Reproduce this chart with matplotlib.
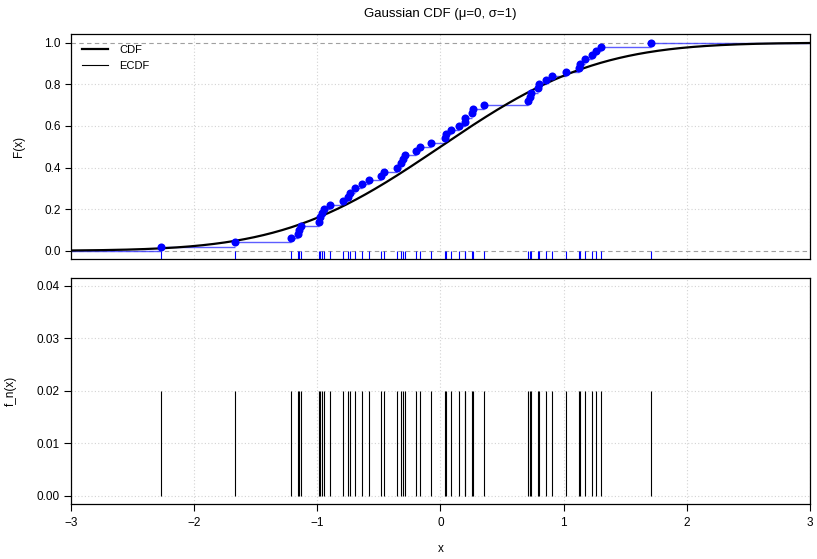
import numpy as np
import matplotlib
matplotlib.use("Agg")
import matplotlib.pyplot as plt
from matplotlib.lines import Line2D
from math import erf, sqrt

plt.rcParams['font.family'] = ['Liberation Sans', 'DejaVu Sans']

# sorted sample (n = 50)
sample = [-2.271, -1.667, -1.213, -1.159, -1.146, -1.134, -0.989, -0.976, -0.959, -0.947,
          -0.898, -0.794, -0.752, -0.736, -0.691, -0.637, -0.577, -0.482, -0.455, -0.354,
          -0.320, -0.305, -0.287, -0.199, -0.167, -0.073, 0.033, 0.041, 0.087, 0.154,
          0.195, 0.203, 0.258, 0.264, 0.350, 0.710, 0.724, 0.737, 0.791, 0.799,
          0.859, 0.905, 1.022, 1.122, 1.130, 1.171, 1.233, 1.266, 1.307, 1.707]
mu, sigma = 0.0, 1.0
x_ticks = [-3, -2, -1, 0, 1, 2, 3]
F_ticks = [0.0, 0.2, 0.4, 0.6, 0.8, 1.0]
f_ticks = [0.00, 0.01, 0.02, 0.03, 0.04]

xs = np.array(sample)
n = len(xs)
Fn = np.arange(1, n + 1) / n
fn = np.full(n, 1.0 / n)

grid_x = np.linspace(-3, 3, 400)
cdf = np.array([0.5 * (1 + erf((v - mu) / (sigma * sqrt(2)))) for v in grid_x])

fig = plt.figure(figsize=(8.17, 5.59), dpi=100)
ax1 = fig.add_axes([0.0869, 0.5358, 0.9045, 0.4034])
ax2 = fig.add_axes([0.0869, 0.0977, 0.9045, 0.4057])

grid_kw = dict(color='#d3d3d3', linestyle=(0, (1, 2)), linewidth=0.8)

# --- top panel: CDF vs ECDF
ax1.set_xlim(-3, 3)
ax1.set_ylim(-0.042, 1.042)
for v in x_ticks:
    ax1.axvline(v, zorder=0, **grid_kw)
for v in F_ticks[1:-1]:
    ax1.axhline(v, zorder=0, **grid_kw)
ax1.axhline(0, color='#a0a0a0', linestyle=(0, (4, 3)), linewidth=0.8, zorder=1)
ax1.axhline(1, color='#a0a0a0', linestyle=(0, (4, 3)), linewidth=0.8, zorder=1)

ax1.plot(grid_x, cdf, color='black', linewidth=1.6, zorder=3)

left = np.concatenate([[-3.0], xs])
right = np.concatenate([xs, [3.0]])
levels = np.concatenate([[0.0], Fn])
ax1.hlines(levels, left, right, color='#4040ff', linewidth=1.0, alpha=0.85, zorder=2)
ax1.plot(xs, Fn, 'o', color='#0000ff', markersize=5.8, markeredgewidth=0, zorder=4)
ax1.vlines(xs, -0.042, 0.0, color='#0000ff', linewidth=0.8, zorder=2)

ax1.set_yticks(F_ticks)
ax1.set_yticklabels([f"{v:.1f}" for v in F_ticks])
ax1.set_xticks([])
ax1.set_ylabel('F(x)', fontsize=8.5, labelpad=14)
ax1.tick_params(axis='y', direction='out', length=4, labelsize=8.5, width=0.8)
ax1.set_title('Gaussian CDF (\u03bc=0, \u03c3=1)', fontsize=9.5, pad=12)

handles = [Line2D([], [], color='black', linewidth=1.6),
           Line2D([], [], color='black', linewidth=0.8)]
ax1.legend(handles, ['CDF', 'ECDF'], loc='upper left', frameon=False, fontsize=8,
           handlelength=2.4, handletextpad=1.0, labelspacing=0.55,
           borderaxespad=0.55, bbox_to_anchor=(0.0, 1.0))

# --- bottom panel: empirical mass function
ax2.set_xlim(-3, 3)
ax2.set_ylim(-0.0016, 0.0416)
for v in x_ticks:
    ax2.axvline(v, zorder=0, **grid_kw)
for v in f_ticks:
    ax2.axhline(v, zorder=0, **grid_kw)
ax2.vlines(xs, 0, fn, color='black', linewidth=0.8, zorder=2)

ax2.set_xticks(x_ticks)
ax2.set_xticklabels(['\u22123', '\u22122', '\u22121', '0', '1', '2', '3'])
ax2.set_yticks(f_ticks)
ax2.set_yticklabels([f"{v:.2f}" for v in f_ticks])
ax2.set_xlabel('x', fontsize=8.5, labelpad=10)
ax2.set_ylabel('f_n(x)', fontsize=8.5, labelpad=14)
ax2.tick_params(direction='out', length=5, labelsize=8.5, width=0.8)
ax2.tick_params(axis='x', pad=4)

for ax in (ax1, ax2):
    for s in ax.spines.values():
        s.set_linewidth(0.9)

fig.savefig('out.png', dpi=100)
